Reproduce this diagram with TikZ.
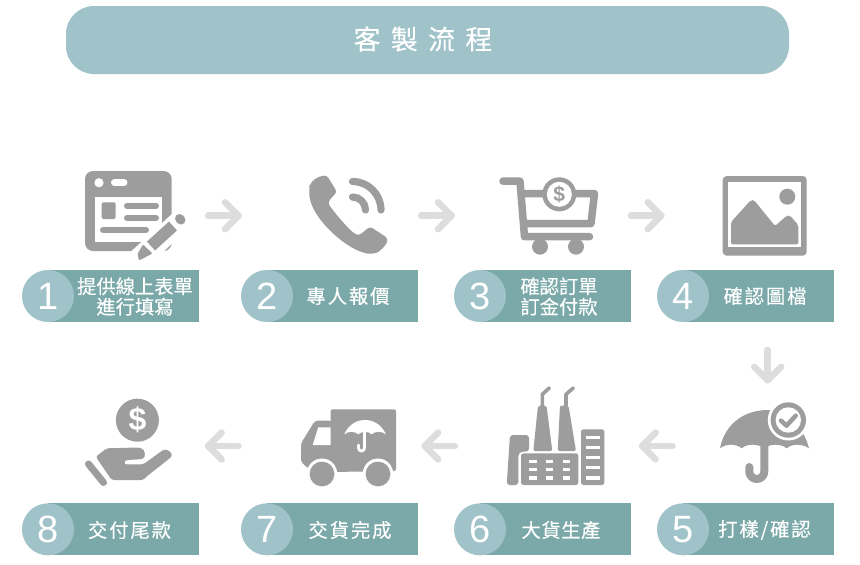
\documentclass[tikz,border=0pt]{standalone}
\usepackage{fontspec}
\usetikzlibrary{calc}
\setmainfont{Liberation Sans}
\newfontfamily\cjk{Noto Sans CJK TC}
\newfontfamily\latinf{Liberation Sans}
\definecolor{ink}{HTML}{9D9D9E}
\definecolor{band}{HTML}{7BA9A9}
\definecolor{pale}{HTML}{A0C3CA}
\definecolor{flow}{HTML}{DDDDDD}
\newcommand{\labfont}[1]{\cjk\fontsize{19.3}{21}\selectfont\addfontfeature{LetterSpace=#1,FakeBold=0.25}}
\tikzset{
  flowarrow/.style={draw=flow,line width=6.5pt,line cap=round,line join=round},
  badge/.style={circle,fill=pale,minimum size=52pt,inner sep=0pt,text=white,font=\latinf\fontsize{38}{38}\selectfont},
  bandbox/.style={rectangle,fill=band,minimum height=52pt,inner sep=0pt,anchor=west},
  steptext/.style={text=white,align=center,inner sep=0pt},
  rail/.style={draw=ink,line cap=round,line join=round},
  gap/.style={draw=white,line cap=round},
  dollar/.style={inner sep=0pt,font=\latinf\bfseries\fontsize{#1}{#1}\selectfont},
}
% #1 id, #2 centre x, #3 centre y, #4 band right, #5 digit
\newcommand{\stepbadge}[5]{%
  \pgfmathsetmacro{\bw}{#4-#2}
  \node[bandbox,minimum width=\bw pt] (band#1) at (#2,#3) {};
  \node[badge] (num#1) at (#2,#3) {#5};
}
\begin{document}
\begin{tikzpicture}[x=1pt,y=-1pt]
\useasboundingbox (0,0) rectangle (860,565);
\fill[white] (0,0) rectangle (860,565);

% header
\node[rectangle,rounded corners=28pt,fill=pale,minimum width=723pt,minimum height=68pt,inner sep=0pt] (title) at (427.5,40) {};
\node[text=white,inner sep=0pt] (titletext) at (423,39) {\cjk\fontsize{27}{27}\selectfont\addfontfeature{LetterSpace=38,FakeBold=0.15}客製流程};

% step bands
\stepbadge{1}{48}{296}{199}{1}
\stepbadge{2}{267}{296}{417.7}{2}
\stepbadge{3}{480}{296}{630.3}{3}
\stepbadge{4}{683}{296}{834}{4}
\stepbadge{5}{683}{529.3}{834}{5}
\stepbadge{6}{480}{529.3}{630.3}{6}
\stepbadge{7}{267}{529.3}{417.7}{7}
\stepbadge{8}{48}{529.3}{199}{8}

\node[steptext] (t1) at (135,296.5) {\labfont{0}提供線上表單\\[1.5pt]\labfont{0}進行填寫};
\node[steptext] (t2) at (348,296) {\labfont{10}專人報價};
\node[steptext] (t3) at (559,296.5) {\labfont{0}確認訂單\\[1.5pt]\labfont{0}訂金付款};
\node[steptext] (t4) at (765,296) {\labfont{10}確認圖檔};
\node[steptext] (t5) at (764.5,530) {\labfont{10}打樣/確認};
\node[steptext] (t6) at (561,530) {\labfont{3}大貨生產};
\node[steptext] (t7) at (350,530) {\labfont{10}交貨完成};
\node[steptext] (t8) at (129.5,530) {\labfont{10}交付尾款};

% arrows
\coordinate (a1s) at (208.2,215.7); \coordinate (a1e) at (238.5,215.7);
\coordinate (a2s) at (421.2,215.7); \coordinate (a2e) at (451.5,215.7);
\coordinate (a3s) at (630.9,215.7); \coordinate (a3e) at (661.2,215.7);
\coordinate (a4s) at (767.7,349.9); \coordinate (a4e) at (767.7,380.2);
\coordinate (a5s) at (672.5,446);   \coordinate (a5e) at (642.2,446);
\coordinate (a6s) at (455,446);     \coordinate (a6e) at (424.7,446);
\coordinate (a7s) at (238.5,446);   \coordinate (a7e) at (208.2,446);
\foreach \n in {1,...,7} {
  \draw[flowarrow] (a\n s) -- (a\n e);
  \draw[flowarrow] ($(a\n e)!19pt!45:(a\n s)$) -- (a\n e) -- ($(a\n e)!19pt!-45:(a\n s)$);
}

% icon 1: form and pencil
\fill[ink,rounded corners=8pt] (85,171) rectangle (171.7,251);
\fill[white] (99,182.7) circle[radius=4.6pt];
\draw[gap,line width=7pt] (114.5,182.7) -- (124,182.7);
\fill[white] (95,196.7) rectangle (162.3,242.3);
\fill[ink,rounded corners=2pt] (101.7,202.3) rectangle (115.7,219);
\draw[rail,line width=6pt] (127,205.7) -- (156,205.7);
\draw[rail,line width=6pt] (127,217.7) -- (156,217.7);
\draw[rail,line width=6pt] (103,230) -- (146,230);
\draw[white,line width=22pt] (186,216) -- (138,260);
\draw[ink,line width=12pt,line cap=butt] (173,226) -- (151,246);
\draw[ink,line width=9pt,line cap=round] (179.5,218.5) -- (181,220);
\fill[ink,rounded corners=1pt] (143,244.5) -- (152.5,253.5) -- (139,260.5) -- (137.5,254) -- cycle;

% icon 2: phone
\fill[ink,rounded corners=3pt] (309.5,188) .. controls (311,181) and (318,176) .. (327,175.5)
  -- (337,192) -- (328.5,201) .. controls (329,206) and (350,232) .. (359,235.5)
  -- (370,226.5) -- (387.5,238) .. controls (387,245) and (379,252) .. (374,253.5)
  .. controls (352,255) and (307,217) .. (309.5,188) -- cycle;
\draw[rail,line width=7.2pt] (352.5,181.5) arc[start angle=90,end angle=0,radius=28.5pt];
\draw[rail,line width=7.2pt] (352.5,197) arc[start angle=90,end angle=0,radius=13pt];

% icon 3: cart
\draw[rail,line width=7.5pt] (503,181.2) -- (520,181.2) -- (524.5,236.7) -- (589.5,236.7);
\draw[rail,line width=7.5pt,line cap=butt] (522,193.5) -- (594.5,193.5) -- (591,223.5) -- (524,223.5);
\fill[ink] (559.3,194.3) circle[radius=17pt];
\fill[white] (559.3,194.3) circle[radius=12.5pt];
\node[dollar=21,text=ink] (cartcoin) at (559.3,194.3) {\$};
\fill[ink] (540,246.7) circle[radius=8pt];
\fill[ink] (576,246.7) circle[radius=8pt];

% icon 4: picture
\fill[ink,rounded corners=4pt] (722.7,176) rectangle (806.7,255.7);
\fill[white] (728.3,181.7) rectangle (801.3,246.7);
\fill[ink,rounded corners=2pt] (731,244.3) -- (731,222) -- (751,200) -- (754,200) -- (775,226) -- (787,215.5) -- (790,215.5) -- (798.3,225) -- (798.3,244.3) -- cycle;
\fill[ink] (787.3,196.7) circle[radius=8pt];

% icon 5: umbrella with check
\fill[ink] (720,448.3) .. controls (725,423) and (745,410) .. (768,410)
  .. controls (785,410) and (803,425) .. (809,448.3)
  .. controls (802,443.5) and (792,443.5) .. (786.7,448.3)
  .. controls (781,443.5) and (770,443.5) .. (764.3,448.3)
  .. controls (758,443.5) and (747,443.5) .. (741.7,448.3)
  .. controls (736,443.5) and (726,443.5) .. (720,448.3) -- cycle;
\draw[rail,line width=8pt] (764.3,445) -- (764.3,471.5) arc[start angle=0,end angle=-180,radius=7.5pt] -- (749.3,467);
\fill[white] (788.3,420) circle[radius=20.5pt];
\fill[ink] (788.3,420) circle[radius=17.7pt];
\fill[white] (788.3,420) circle[radius=12.7pt];
\draw[rail,line width=4.5pt] (781,420.7) -- (786.5,425.7) -- (795.7,415.7);

% icon 6: factory
\fill[ink,rounded corners=2pt] (538,405.5) -- (546.5,405.5) -- (552.3,451) -- (533.3,451) -- cycle;
\fill[ink,rounded corners=2pt] (560,405.5) -- (568.5,405.5) -- (576,451) -- (557.7,451) -- cycle;
\draw[rail,line width=3.6pt] (542.3,406) -- (542.3,394.3) -- (549.3,388);
\draw[rail,line width=3.6pt] (566,406) -- (566,394.3) -- (573.3,388);
\fill[ink,rounded corners=3pt] (506.7,485) -- (510,435) -- (529,435) -- (529,451.5) -- (521,451.5) -- (518.3,454) -- (518.3,485) -- cycle;
\fill[ink,rounded corners=2.5pt] (521,453.3) rectangle (578.3,485);
\foreach \yy in {459.5,467.7,476} \foreach \xx in {529.3,546,562.7}
  \fill[white] (\xx,\yy) rectangle ++(7.3,3.5);
\fill[ink,rounded corners=2.5pt] (581,429.3) rectangle (604.3,485);
\foreach \yy in {435.5,445.5,455.5,465.5,475.8}
  \fill[white] (585.7,\yy) rectangle ++(14.3,3.7);

% icon 7: truck
\fill[ink,rounded corners=2pt] (330.7,472) -- (330.7,409.3) -- (396,409.3) -- (396,471) -- cycle;
\fill[ink,rounded corners=3pt] (332,420.7) -- (315,420.7) -- (301,443.3) -- (301,462) -- (309,469) -- (332,472) -- cycle;
\fill[white] (318.3,427.3) -- (330.7,427.3) -- (330.7,445) -- (312.7,445) -- cycle;
\fill[white] (322,473.7) circle[radius=15.2pt];
\fill[white] (378,473.7) circle[radius=15.2pt];
\fill[ink] (322,474) circle[radius=12.4pt];
\fill[ink] (378,474) circle[radius=12.4pt];
\fill[white] (344.3,434.3) .. controls (348,426) and (355,420) .. (365,420)
  .. controls (375,420) and (382,426) .. (386,434.3)
  .. controls (382,431) and (375,431) .. (371.7,434.3)
  .. controls (368,431) and (362,431) .. (358.3,434.3)
  .. controls (355,431) and (348,431) .. (344.3,434.3) -- cycle;
\draw[white,line width=2.8pt,line cap=round] (364.5,432) -- (364.5,448) arc[start angle=0,end angle=-180,radius=3pt] -- (358.5,445);

% icon 8: hand and coin
\fill[ink] (137.4,420.2) circle[radius=21.5pt];
\node[dollar=32,text=white] (handcoin) at (137.4,420.2) {\$};
\draw[rail,line width=7pt] (88.5,464) -- (103.5,482.5);
\fill[ink,rounded corners=2.5pt] (95.7,456.7) -- (106.7,448.3) -- (138,447.5) .. controls (146,449) and (146,458) .. (140,459.3) -- (127.5,460) .. controls (124.5,461) and (124.5,464) .. (127.5,464.5) -- (143.3,464.3) -- (161,451.5) .. controls (167,447.5) and (174,454) .. (169.5,458.5) -- (146,477) .. controls (144,479) and (142,480) .. (139,480) -- (111.7,480) -- cycle;
\end{tikzpicture}
\end{document}
